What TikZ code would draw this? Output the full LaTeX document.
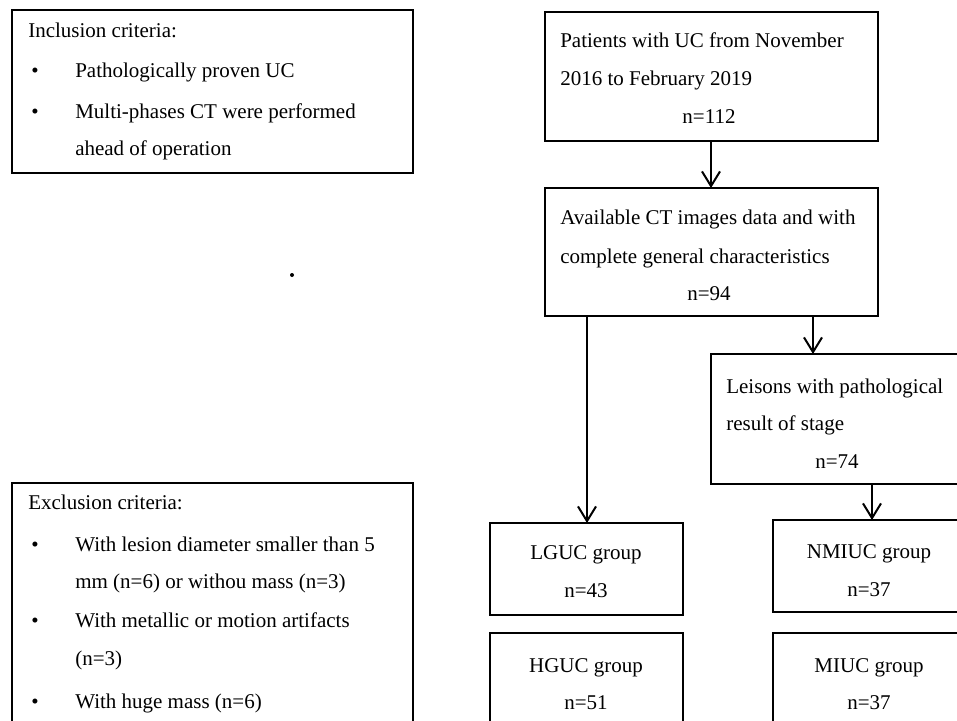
\documentclass[tikz,border=0pt]{standalone}
\usepackage{fontspec}
\setmainfont{Liberation Serif}
\usetikzlibrary{arrows.meta,fit}
\begin{document}
\begin{tikzpicture}[x=0.75pt,y=-0.75pt,
  thickbox/.style={draw, line width=2.2pt, inner sep=0pt, outer sep=0pt},
  flowbox/.style={draw, line width=1.5pt, inner sep=0pt, outer sep=0pt},
  txt/.style={anchor=base west, inner sep=0pt, font=\fontsize{15.75}{19}\selectfont},
  ctxt/.style={anchor=base, inner sep=0pt, font=\fontsize{15.75}{19}\selectfont},
  arr/.style={line width=1.5pt, -{Straight Barb[length=11pt,width=13.5pt,line width=1.5pt]}}
]
\useasboundingbox (0,0) rectangle (957,721);
\clip (0,0) rectangle (957,721);
% boxes
\node[thickbox, fit={(12,10) (413,173)}] (incl) {};
\node[thickbox, fit={(12,483) (413,740)}] (excl) {};
\node[flowbox, fit={(545,12) (878,141)}] (pat) {};
\node[flowbox, fit={(545,188) (878,316)}] (avail) {};
\node[flowbox, fit={(711,354) (965,484)}] (leis) {};
\node[flowbox, fit={(490,523) (683,615)}] (lguc) {};
\node[flowbox, fit={(773,520) (965,612)}] (nmiuc) {};
\node[flowbox, fit={(490,633) (683,740)}] (hguc) {};
\node[flowbox, fit={(773,633) (965,740)}] (miuc) {};
% inclusion text
\node[txt] (i0) at (28,37) {Inclusion criteria:};
\node[ctxt] (ib1) at (35,77) {•};
\node[txt] (i1) at (75,77) {Pathologically proven UC};
\node[ctxt] (ib2) at (35,118) {•};
\node[txt] (i2) at (75,118) {Multi-phases CT were performed};
\node[txt] (i3) at (75,155) {ahead of operation};
% exclusion text
\node[txt] (e0) at (28,509) {Exclusion criteria:};
\node[ctxt] (eb1) at (35,551) {•};
\node[txt] (e1) at (75,551) {With lesion diameter smaller than 5};
\node[txt] (e2) at (75,588) {mm (n=6) or withou mass (n=3)};
\node[ctxt] (eb2) at (35,627) {•};
\node[txt] (e3) at (75,627) {With metallic or motion artifacts};
\node[txt] (e4) at (75,665) {(n=3)};
\node[ctxt] (eb3) at (35,708) {•};
\node[txt] (e5) at (75,708) {With huge mass (n=6)};
% patients
\node[txt] (p1) at (560,47) {Patients with UC from November};
\node[txt] (p2) at (560,85) {2016 to February 2019};
\node[ctxt] (p3) at (709,123) {n=112};
% available
\node[txt] (a1) at (560,224) {Available CT images data and with};
\node[txt] (a2) at (560,263) {complete general characteristics};
\node[ctxt] (a3) at (709,300) {n=94};
% leisons
\node[txt] (l1) at (726,393) {Leisons with pathological};
\node[txt] (l2) at (726,430) {result of stage};
\node[ctxt] (l3) at (837,468) {n=74};
% groups
\node[ctxt] (g1) at (586,559) {LGUC group};
\node[ctxt] (g1n) at (586,597) {n=43};
\node[ctxt] (g2) at (869,558) {NMIUC group};
\node[ctxt] (g2n) at (869,596) {n=37};
\node[ctxt] (g3) at (586,672) {HGUC group};
\node[ctxt] (g3n) at (586,709) {n=51};
\node[ctxt] (g4) at (869,672) {MIUC group};
\node[ctxt] (g4n) at (869,709) {n=37};
% stray dot
\fill (292,275) circle (2);
% connectors
\coordinate (cp) at (711,0);
\coordinate (cr) at (813,0);
\coordinate (cl) at (587,0);
\coordinate (cn) at (872,0);
\draw[arr] (pat.south -| cp) -- (avail.north -| cp);
\draw[arr] (avail.south -| cl) -- (lguc.north -| cl);
\draw[arr] (avail.south -| cr) -- (leis.north -| cr);
\draw[arr] (leis.south -| cn) -- (nmiuc.north -| cn);
\end{tikzpicture}
\end{document}
